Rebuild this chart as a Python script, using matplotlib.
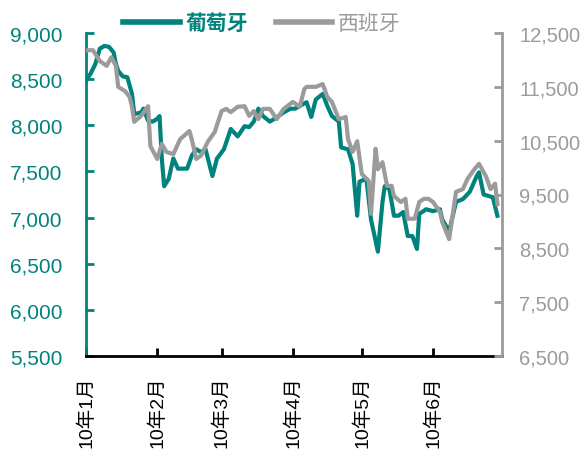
import matplotlib
matplotlib.use("Agg")
import matplotlib.pyplot as plt
from matplotlib.ticker import FuncFormatter
import pandas as pd

plt.rcParams['font.family'] = ['Liberation Sans', 'Noto Sans CJK SC', 'DejaVu Sans']

teal = "#00827d"
grey = "#9b9b9b"

# 葡萄牙 (left axis)
pt_dates = ["01-01", "01-03", "01-05", "01-07", "01-09", "01-11", "01-13", "01-14",
            "01-15", "01-17", "01-19", "01-21", "01-22", "01-25", "01-26", "01-28",
            "01-30", "02-01", "02-02", "02-03", "02-04", "02-06", "02-08", "02-10",
            "02-14", "02-16", "02-18", "02-20", "02-22", "02-25", "02-27", "03-02",
            "03-05", "03-08", "03-11", "03-13", "03-15", "03-17", "03-19", "03-22",
            "03-24", "03-28", "03-31", "04-02", "04-04", "04-07", "04-09", "04-11",
            "04-14", "04-16", "04-18", "04-21", "04-22", "04-25", "04-27", "04-29",
            "04-30", "05-03", "05-05", "05-08", "05-10", "05-11", "05-13", "05-15",
            "05-17", "05-19", "05-21", "05-23", "05-25", "05-26", "05-29", "06-01",
            "06-04", "06-05", "06-08", "06-11", "06-14", "06-17", "06-20", "06-21",
            "06-23", "06-27", "06-29"]
pt_vals = [8480, 8560, 8660, 8830, 8860, 8850, 8790, 8665,
           8590, 8530, 8520, 8340, 8120, 8140, 8180, 8050,
           8040, 8070, 8100, 7635, 7340, 7420, 7640, 7530,
           7530, 7670, 7740, 7710, 7740, 7450, 7640, 7740,
           7960, 7880, 7990, 7980, 8040, 8180, 8100, 8040,
           8070, 8140, 8180, 8180, 8210, 8250, 8090, 8280,
           8340, 8210, 8100, 8040, 7760, 7740, 7580, 7020,
           7390, 7420, 6980, 6630, 7170, 7340, 7310, 7020,
           7020, 7060, 6800, 6800, 6660, 7040, 7090, 7070,
           7090, 6980, 6850, 7170, 7200, 7280, 7450, 7490,
           7250, 7220, 7020]

# 西班牙 (right axis)
es_dates = ["01-01", "01-04", "01-07", "01-10", "01-12", "01-14", "01-15", "01-18",
            "01-20", "01-21", "01-22", "01-25", "01-28", "01-29", "02-01", "02-03",
            "02-05", "02-08", "02-11", "02-15", "02-16", "02-18", "02-20", "02-23",
            "02-26", "03-01", "03-03", "03-05", "03-08", "03-11", "03-13", "03-15",
            "03-17", "03-19", "03-22", "03-25", "03-28", "04-01", "04-04", "04-06",
            "04-07", "04-11", "04-14", "04-16", "04-18", "04-21", "04-24", "04-25",
            "04-27", "04-29", "05-01", "05-04", "05-05", "05-07", "05-08", "05-10",
            "05-12", "05-14", "05-15", "05-18", "05-20", "05-21", "05-24", "05-26",
            "05-28", "05-30", "06-01", "06-04", "06-05", "06-08", "06-11", "06-14",
            "06-16", "06-19", "06-21", "06-24", "06-26", "06-28", "06-29"]
es_vals = [12180, 12180, 11980, 11890, 12050, 11890, 11500, 11420,
           11310, 11130, 10850, 10960, 11140, 10400, 10160, 10440,
           10290, 10250, 10530, 10680, 10530, 10160, 10220, 10480,
           10660, 11050, 11090, 11030, 11130, 11140, 10960, 11050,
           10900, 11090, 11090, 10900, 11090, 11220, 11130, 11460,
           11500, 11500, 11550, 11310, 11220, 10900, 10940, 10530,
           10290, 10490, 9880, 9750, 9140, 10350, 9970, 10100,
           9660, 9660, 9470, 9360, 9420, 9050, 9050, 9360,
           9420, 9420, 9360, 9180, 8990, 8670, 9550, 9600,
           9790, 9970, 10070, 9840, 9600, 9700, 9320]

month_ticks = ["2010-01-01", "2010-02-01", "2010-03-01", "2010-04-01", "2010-05-01", "2010-06-01"]
month_labels = ["10年1月", "10年2月", "10年3月", "10年4月", "10年5月", "10年6月"]

pt_x = pd.to_datetime(["2010-" + s for s in pt_dates])
es_x = pd.to_datetime(["2010-" + s for s in es_dates])

fig = plt.figure(figsize=(5.86, 4.52), dpi=100)
ax = fig.add_axes([86/586, 1-357/452, (502-86)/586, (357-34)/452])
ax2 = ax.twinx()

l1, = ax.plot(pt_x, pt_vals, color=teal, lw=3.0, solid_joinstyle='round')
l2, = ax2.plot(es_x, es_vals, color=grey, lw=3.0, solid_joinstyle='round')

ax.set_xlim(pd.Timestamp("2010-01-01"), pd.Timestamp("2010-07-01"))
ax.set_ylim(5500, 9000)
ax2.set_ylim(6500, 12500)
ax.set_yticks(range(5500, 9001, 500))
ax2.set_yticks(range(6500, 12501, 1000))
comma = FuncFormatter(lambda v, p: f"{int(v):,}")
ax.yaxis.set_major_formatter(comma)
ax2.yaxis.set_major_formatter(comma)

ax.set_xticks(pd.to_datetime(month_ticks))
ax.set_xticklabels(month_labels, rotation=90, fontsize=14, va='top')

for a in (ax, ax2):
    a.spines['top'].set_visible(False)
    a.set_facecolor('none')
ax.spines['right'].set_visible(False)
ax2.spines['left'].set_visible(False)
ax2.spines['bottom'].set_visible(False)
ax.spines['left'].set_color(teal)
ax.spines['left'].set_linewidth(2)
ax.spines['bottom'].set_color('black')
ax.spines['bottom'].set_linewidth(2)
ax2.spines['right'].set_color(grey)
ax2.spines['right'].set_linewidth(2)

ax.tick_params(axis='y', direction='in', length=6, width=2, color=teal,
               labelcolor=teal, labelsize=15, pad=17)
ax.tick_params(axis='x', direction='in', length=6, width=2, color='black',
               labelcolor='black', pad=14)
ax2.tick_params(axis='y', direction='in', length=6, width=2, color=grey,
                labelcolor=grey, labelsize=14.5, pad=12.5)

leg = fig.legend([l1, l2], ["葡萄牙", "西班牙"], loc='center', ncol=2,
                 bbox_to_anchor=(262/586, 1-24/452), frameon=False,
                 fontsize=15, handlelength=2.7, handletextpad=0.3, columnspacing=1.3)
for t, c in zip(leg.get_texts(), [teal, grey]):
    t.set_color(c)
leg.get_texts()[0].set_fontweight('bold')
for h in leg.legend_handles:
    h.set_linewidth(4)

fig.savefig("out.png", dpi=100)
